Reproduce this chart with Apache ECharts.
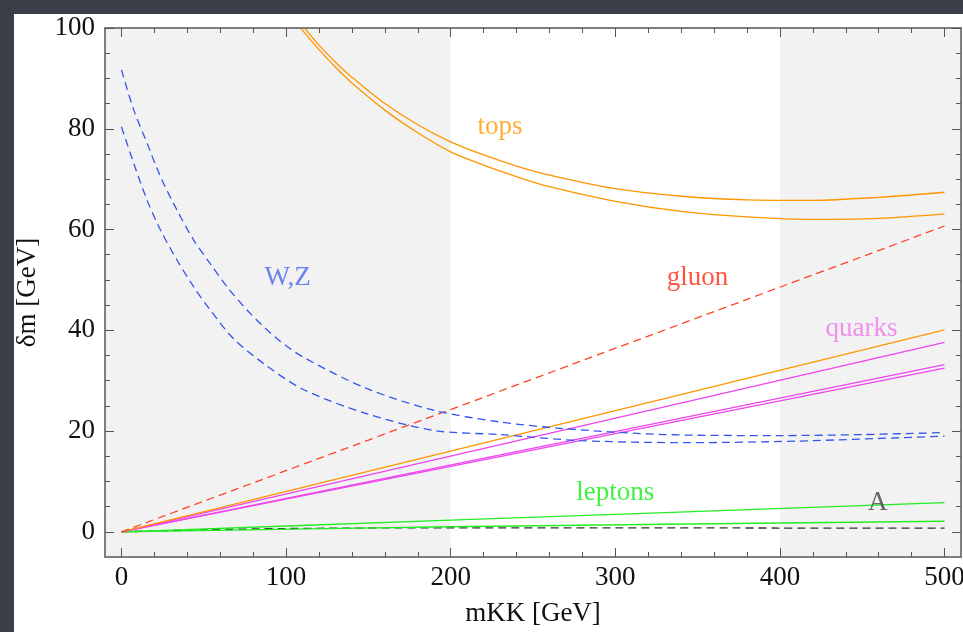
<!DOCTYPE html>
<html>
<head>
<meta charset="utf-8">
<script src="https://cdn.jsdelivr.net/npm/echarts@6/dist/echarts.min.js"></script>
<style>
html, body { margin: 0; padding: 0; width: 963px; height: 632px; background: #3b3e46; overflow: hidden; }
#chart { position: absolute; left: 14px; top: 14px; width: 949px; height: 618px; background: #fff; }
</style>
</head>
<body>
<div id="chart"></div>
<script>
// tick values
var xMajor = [0, 100, 200, 300, 400, 500];
var xMinor = [20, 40, 60, 80, 120, 140, 160, 180, 220, 240, 260, 280, 320, 340, 360, 380, 420, 440, 460, 480];
var yMajor = [0, 20, 40, 60, 80, 100];
var yMinor = [5, 10, 15, 25, 30, 35, 45, 50, 55, 65, 70, 75, 85, 90, 95];

// shaded mKK ranges
var bands = [[-10, 200], [400, 510]];

// tops (two solid orange curves)
var topsUp = [[110.5, 100.3], [120, 96.6], [130, 93.2], [140, 90.2], [160, 85.0], [180, 80.8], [200, 77.4], [220, 74.8], [240, 72.6], [260, 70.8], [300, 68.1], [340, 66.6], [380, 65.9], [420, 65.8], [460, 66.4], [500, 67.4]];
var topsLo = [[108, 100.3], [120, 95.7], [130, 92.2], [140, 89.1], [160, 83.7], [180, 79.2], [200, 75.4], [220, 72.8], [240, 70.5], [260, 68.5], [300, 65.6], [340, 63.6], [380, 62.5], [420, 62.0], [460, 62.2], [500, 63.1]];
// W,Z (dashed blue)
var wBoson = [[0, 91.7], [7.5, 83.7], [15.6, 77.1], [23.7, 70.5], [33.8, 63.8], [43.9, 57.9], [54, 53.2], [64.2, 48.6], [78.4, 43.3], [94.6, 38.3], [110.8, 34.6], [149.3, 28.4], [190, 24.1], [230, 21.8], [268, 20.5], [330, 19.3], [400, 19.1], [450, 19.3], [500, 19.7]];
var zBoson = [[0, 80.4], [7.5, 73.1], [15.6, 65.8], [23.7, 59.9], [33.8, 53.9], [43.9, 48.6], [54, 44.0], [68.2, 38.3], [88, 33.0], [110.8, 28.2], [149.3, 23.4], [190, 20.1], [230, 19.3], [279, 18.1], [344, 17.7], [410, 18.0], [500, 19.0]];
// gluon (dashed red)
var gluon = [[0, 0], [500, 60.7]];
// straight lines
var topLine = [[0, 0], [500, 40.1]];
var quark1 = [[0, 0], [500, 37.6]];
var quark2 = [[0, 0], [500, 33.2]];
var quark3 = [[0, 0], [500, 32.5]];
var lepton1 = [[0, 0], [200, 2.3], [500, 5.8]];
var lepton2 = [[0, 0], [200, 1.0], [500, 2.1]];
var photon = [[0, 0], [50, 0.4], [100, 0.65], [200, 0.8], [300, 0.8], [400, 0.75], [500, 0.72]];

// curve labels
var labelText = ['tops', 'W,Z', 'gluon', 'quarks', 'leptons', 'A'];
var labelX = [230, 101, 350, 449.5, 300, 459.5];
var labelY = [80.3, 50.4, 50.3, 40.2, 7.7, 5.7];

var FONT = "'Liberation Serif', 'DejaVu Serif', serif";
var labelColors = ['#ff9900', '#4466ee', '#ff2a10', '#ee77ee', '#11ee11', '#444444'];

function mkX(pos, ticks, len, labels) {
    var ax = {
        type: 'value', min: -10, max: 510, position: pos, z: 5,
        axisLine: { show: true, onZero: false, lineStyle: { color: '#777', width: 1.5 } },
        axisTick: { show: true, inside: true, length: len, customValues: ticks, lineStyle: { color: '#555', width: 1 } },
        axisLabel: { show: false },
        splitLine: { show: false }
    };
    if (labels) {
        ax.axisLabel = { show: true, customValues: ticks, margin: 7, fontSize: 27, color: '#111', fontFamily: FONT };
        ax.name = 'mKK [GeV]';
        ax.nameLocation = 'middle';
        ax.nameGap = 43;
        ax.nameTextStyle = { fontSize: 27, color: '#111', fontFamily: FONT };
    }
    return ax;
}
function mkY(pos, ticks, len, labels) {
    var ax = {
        type: 'value', min: -5, max: 100, position: pos, z: 5,
        axisLine: { show: true, onZero: false, lineStyle: { color: '#777', width: 1.5 } },
        axisTick: { show: true, inside: true, length: len, customValues: ticks, lineStyle: { color: '#555', width: 1 } },
        axisLabel: { show: false },
        splitLine: { show: false }
    };
    if (labels) {
        ax.axisLabel = { show: true, customValues: ticks, margin: 10, fontSize: 27, color: '#111', fontFamily: FONT };
        ax.name = 'δm [GeV]';
        ax.nameLocation = 'middle';
        ax.nameGap = 64;
        ax.nameTextStyle = { fontSize: 27, color: '#111', fontFamily: FONT };
    }
    return ax;
}
function ln(data, color, dashed) {
    return {
        type: 'line', data: data, xAxisIndex: 0, yAxisIndex: 0,
        symbol: 'none', smooth: 0.3, silent: true, z: 3,
        lineStyle: { color: color, width: 1.3, type: dashed ? [8, 5] : 'solid' }
    };
}

var labelData = [];
for (var i = 0; i < labelText.length; i++) {
    labelData.push({ name: labelText[i], value: [labelX[i], labelY[i]], label: { color: labelColors[i] } });
}

var myChart = echarts.init(document.getElementById('chart'));
myChart.setOption({
    animation: false,
    grid: { left: 91, top: 14, right: 2, bottom: 75, containLabel: false, outerBoundsMode: 'none' },
    xAxis: [mkX('bottom', xMajor, 9, true), mkX('bottom', xMinor, 5, false), mkX('top', xMajor, 9, false), mkX('top', xMinor, 5, false)],
    yAxis: [mkY('left', yMajor, 9, true), mkY('left', yMinor, 5, false), mkY('right', yMajor, 9, false), mkY('right', yMinor, 5, false)],
    series: [
        {
            type: 'line', data: [], z: 1, silent: true,
            markArea: {
                silent: true,
                itemStyle: { color: '#f2f2f2' },
                data: bands.map(function (b) { return [{ xAxis: b[0] }, { xAxis: b[1] }]; })
            }
        },
        ln(photon, '#333333', true),
        ln(lepton2, '#22ee22', false),
        ln(lepton1, '#22ee22', false),
        ln(quark3, '#ee44ee', false),
        ln(quark2, '#ee44ee', false),
        ln(quark1, '#ee44ee', false),
        ln(topLine, '#ff9500', false),
        ln(gluon, '#ff4422', true),
        ln(zBoson, '#3355ee', true),
        ln(wBoson, '#3355ee', true),
        ln(topsLo, '#ff9500', false),
        ln(topsUp, '#ff9500', false),
        {
            type: 'scatter', data: labelData, symbolSize: 1, silent: true, z: 4,
            itemStyle: { color: 'rgba(0,0,0,0)' },
            label: {
                show: true, position: 'inside', fontSize: 27, fontFamily: FONT,
                formatter: function (p) { return p.name; }
            }
        }
    ]
});
</script>
</body>
</html>
